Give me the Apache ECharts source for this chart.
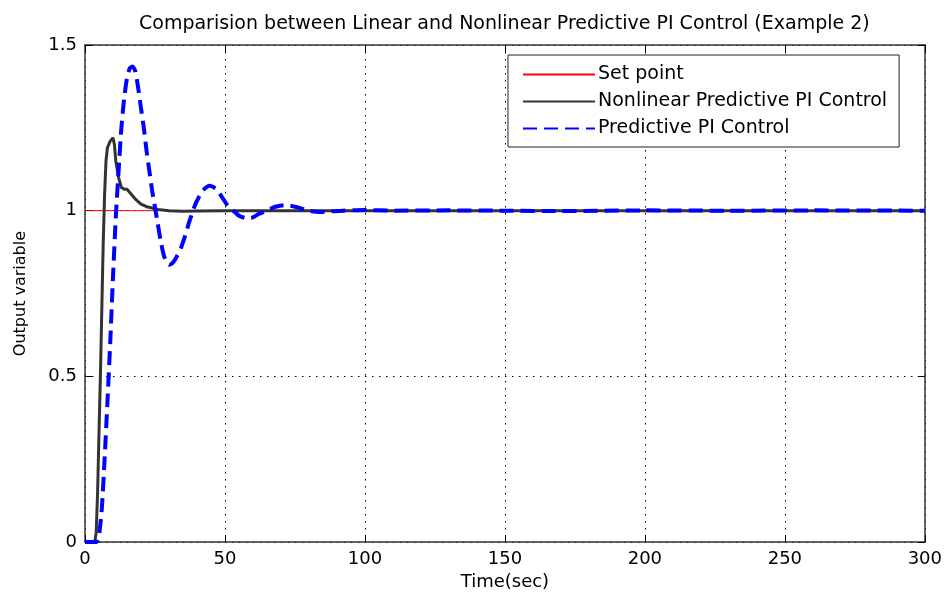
<!DOCTYPE html>
<html>
<head>
<meta charset="utf-8">
<script src="https://cdn.jsdelivr.net/npm/echarts@6/dist/echarts.min.js"></script>
<style>html,body{margin:0;padding:0;background:#fff;}#c{width:945px;height:596px;}</style>
</head>
<body>
<div id="c"></div>
<script>
// ---- data ----
const titleText = 'Comparision between Linear and Nonlinear Predictive PI Control (Example 2)';
const seriesNames = ['Set point', 'Nonlinear Predictive PI Control', 'Predictive PI Control'];
const xTicks = [0, 50, 100, 150, 200, 250, 300];
const yTicks = [0, 0.5, 1, 1.5];

const tSet = [0, 300];
const ySet = [1, 1];

const tNL = [0, 3.5, 4, 4.5, 5, 5.5, 6, 6.5, 7, 7.5, 8, 9, 10, 10.5, 11, 12, 13, 14, 15, 16, 17, 18, 20, 22, 24, 26, 30, 35, 40, 50, 300];
const yNL = [0, 0, 0.03, 0.15, 0.33, 0.5, 0.7, 0.9, 1.05, 1.15, 1.19, 1.21, 1.22, 1.2, 1.15, 1.1, 1.07, 1.065, 1.065, 1.055, 1.045, 1.035, 1.02, 1.012, 1.008, 1.004, 1.0, 0.998, 0.999, 1.0, 1.0];

const tPI = [0, 4, 5, 6, 7, 8, 9, 10, 11, 12, 13, 14, 15, 16, 17, 18, 19, 20, 21, 22, 23, 24, 25, 26, 27, 28, 29, 30, 31, 32, 33, 34, 35, 36, 37, 38, 39, 40, 42, 44.5, 47, 49, 51, 53, 55, 57.5, 60, 62, 65, 68, 72, 76, 80, 84, 88, 92, 100, 110, 130, 150, 170, 200, 230, 260, 300];
const yPI = [0, 0, 0.02, 0.1, 0.25, 0.42, 0.6, 0.8, 0.98, 1.12, 1.25, 1.34, 1.4, 1.43, 1.435, 1.42, 1.37, 1.31, 1.25, 1.18, 1.12, 1.06, 1.01, 0.96, 0.91, 0.87, 0.845, 0.837, 0.84, 0.85, 0.865, 0.88, 0.905, 0.93, 0.96, 0.985, 1.01, 1.03, 1.06, 1.075, 1.065, 1.04, 1.015, 1.0, 0.985, 0.978, 0.98, 0.99, 1.0, 1.012, 1.017, 1.01, 1.0, 0.996, 0.998, 1.0, 1.002, 1.0, 1.001, 1.0, 0.999, 1.001, 1.0, 1.001, 1.0];

const zip = (t, y) => t.map((v, i) => [v, y[i]]);

const FONT = 'DejaVu Sans';
const chart = echarts.init(document.getElementById('c'), null, {renderer: 'canvas'});
const gridLine = {show: true, lineStyle: {color: '#000', width: 1, type: [1.5, 5.5]}};
const frameLine = {show: true, onZero: false, lineStyle: {color: '#333', width: 1.5}};
chart.setOption({
  animation: false,
  backgroundColor: '#fff',
  title: {
    text: titleText, left: 134, top: 10,
    textStyle: {fontFamily: FONT, fontSize: 19, fontWeight: 'normal', color: '#000'}
  },
  legend: {
    orient: 'vertical', left: 508, top: 55,
    padding: [10, 12, 9, 14], itemGap: 8, itemWidth: 72, itemHeight: 14,
    backgroundColor: '#fff', borderColor: '#222', borderWidth: 1,
    itemStyle: {opacity: 0},
    textStyle: {fontFamily: FONT, fontSize: 19, color: '#000', padding: [0, 0, 0, -2]},
    data: seriesNames
  },
  grid: {left: 85, right: 20, top: 45, bottom: 53, show: false},
  xAxis: [{
    type: 'value', min: 0, max: 300, interval: 50,
    name: 'Time(sec)', nameLocation: 'middle', nameGap: 28,
    nameTextStyle: {fontFamily: FONT, fontSize: 18, color: '#000'},
    axisLine: frameLine,
    axisTick: {show: true, inside: true, length: 7, lineStyle: {color: '#000'}},
    axisLabel: {fontFamily: FONT, fontSize: 18, color: '#000', margin: 8},
    splitLine: gridLine
  }, {
    type: 'value', min: 0, max: 300, interval: 50, position: 'top',
    axisLine: frameLine,
    axisTick: {show: true, inside: true, length: 7, lineStyle: {color: '#000'}},
    axisLabel: {show: false}, splitLine: {show: false}
  }],
  yAxis: [{
    type: 'value', min: 0, max: 1.5, interval: 0.5,
    name: 'Output variable', nameLocation: 'middle', nameGap: 56,
    nameTextStyle: {fontFamily: FONT, fontSize: 16, color: '#000'},
    axisLine: frameLine,
    axisTick: {show: true, inside: true, length: 7, lineStyle: {color: '#000'}},
    axisLabel: {fontFamily: FONT, fontSize: 18, color: '#000', margin: 8,
      formatter: v => String(v)},
    splitLine: gridLine
  }, {
    type: 'value', min: 0, max: 1.5, interval: 0.5, position: 'right',
    axisLine: frameLine,
    axisTick: {show: true, inside: true, length: 7, lineStyle: {color: '#000'}},
    axisLabel: {show: false}, splitLine: {show: false}
  }],
  series: [{
    name: seriesNames[0], type: 'line', data: zip(tSet, ySet), symbol: 'none',
    lineStyle: {color: '#ff0000', width: 1}, itemStyle: {color: '#ff0000'}, z: 2
  }, {
    name: seriesNames[1], type: 'line', data: zip(tNL, yNL), symbol: 'none',
    lineStyle: {color: '#333333', width: 3}, itemStyle: {color: '#333333'}, z: 3
  }, {
    name: seriesNames[2], type: 'line', data: zip(tPI, yPI), symbol: 'none', smooth: 0.2,
    lineStyle: {color: '#0000ff', width: 4, type: [14, 7]}, itemStyle: {color: '#0000ff'}, z: 4
  }]
});
</script>
</body>
</html>
